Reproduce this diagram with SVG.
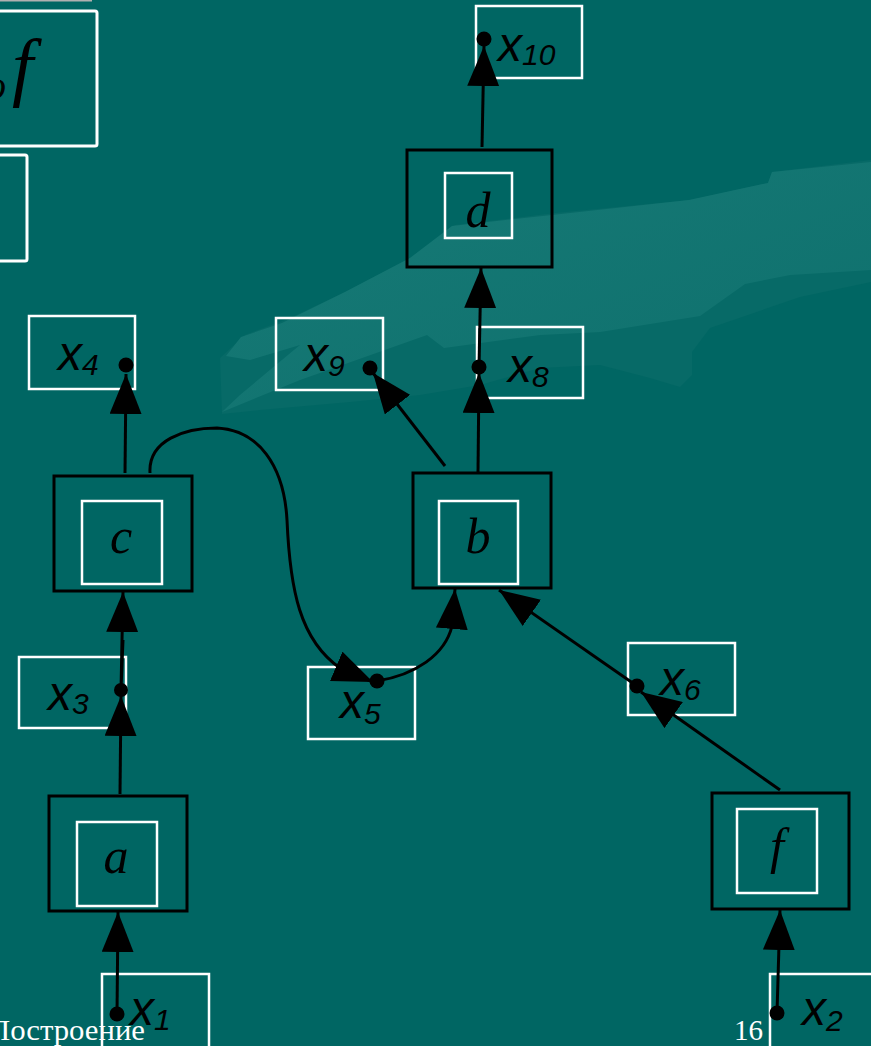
<svg xmlns="http://www.w3.org/2000/svg" width="871" height="1046" viewBox="0 0 871 1046">
<defs>
<linearGradient id="band" x1="0" y1="0" x2="1" y2="1">
<stop offset="0" stop-color="#177a76"/>
<stop offset="1" stop-color="#0e706d"/>
</linearGradient>
<marker id="ah" viewBox="0 0 40 32" markerWidth="40" markerHeight="32" markerUnits="userSpaceOnUse" refX="40" refY="16" orient="auto">
<path d="M0,0 L40,16 L0,32 Z" fill="#000"/>
</marker>
<style>
.outer{fill:none;stroke:#000;stroke-width:3}
.inner{fill:none;stroke:#fff;stroke-width:2.5}
.var{fill:none;stroke:#fff;stroke-width:2.5}
.op{font-family:"Liberation Serif",serif;font-style:italic;font-size:50px;fill:#000}
.vx{font-family:"Liberation Sans",sans-serif;font-style:italic;font-size:48px;fill:#000}
.vs{font-family:"Liberation Sans",sans-serif;font-style:italic;font-size:30px;fill:#000}
.edge{fill:none;stroke:#000;stroke-width:3;marker-end:url(#ah)}
.foot{font-family:"Liberation Serif",serif;font-size:29px;fill:#fff}
</style>
</defs>
<rect x="0" y="0" width="871" height="1046" fill="#006663"/>
<g id="swoosh">
<path d="M220,358 L245,335 L290,318 L345,292 L410,258 L455,225 L555,213 L690,200 L768,183 L772,172 L871,160 L871,282 L800,297 L710,328 L692,352 L692,375 L680,387 L650,378 L600,365 L540,368 L480,385 L420,395 L350,402 L260,410 L222,414 Z" fill="#076a67"/>
<path d="M222,412 L300,380 L427,335 L444,348 L540,335 L600,332 L700,316 L745,284 L790,275 L871,270 L871,162 L772,172 L768,183 L689,200 L552,215 L452,226 L410,258 L345,292 L282,323 L241,337 L226,356 L250,360 L300,345 L240,395 Z" fill="url(#band)"/>
</g>
<g id="fragments">
<rect x="0" y="0" width="92" height="1.5" fill="#b0b0b0"/>
<rect x="-10" y="11" width="107" height="135" rx="2" fill="none" stroke="#fff" stroke-width="3"/>
<text x="-14" y="99" style="font-family:'Liberation Serif',serif;font-style:italic;font-size:40px;fill:#000">o</text>
<text x="12" y="92" style="font-family:'Liberation Serif',serif;font-style:italic;font-size:76px;fill:#000">f</text>
<rect x="-10" y="155" width="37" height="106" rx="2" fill="none" stroke="#fff" stroke-width="3"/>
</g>
<g id="footer">
<text class="foot" x="-12" y="1040" textLength="157" lengthAdjust="spacingAndGlyphs">Построение</text>
<text class="foot" x="734" y="1040">16</text>
</g>
<g id="node-d">
<rect class="outer" x="407" y="150" width="145" height="117"/>
<rect class="inner" x="445" y="173" width="67" height="65"/>
<text class="op" x="478" y="227" text-anchor="middle">d</text>
</g>
<g id="node-c">
<rect class="outer" x="54" y="476" width="138" height="115"/>
<rect class="inner" x="82" y="501" width="80" height="83"/>
<text class="op" x="121" y="553" text-anchor="middle">c</text>
</g>
<g id="node-b">
<rect class="outer" x="413" y="473" width="138" height="115"/>
<rect class="inner" x="439" y="501" width="79" height="83"/>
<text class="op" x="478" y="553" text-anchor="middle">b</text>
</g>
<g id="node-a">
<rect class="outer" x="49" y="796" width="138" height="115"/>
<rect class="inner" x="77" y="822" width="80" height="84"/>
<text class="op" x="116" y="873" text-anchor="middle">a</text>
</g>
<g id="node-f">
<rect class="outer" x="712" y="793" width="137" height="116"/>
<rect class="inner" x="737" y="809" width="80" height="84"/>
<text class="op" x="777" y="863" text-anchor="middle">f</text>
</g>
<g id="var-x10">
<rect class="var" x="476" y="6" width="106" height="72"/>
<text x="498" y="61"><tspan class="vx">x</tspan><tspan class="vs" dy="4">10</tspan></text>
</g>
<g id="var-x4">
<rect class="var" x="29" y="316" width="106" height="73"/>
<text x="58" y="370"><tspan class="vx">x</tspan><tspan class="vs" dy="5">4</tspan></text>
</g>
<g id="var-x9">
<rect class="var" x="276" y="318" width="107" height="72"/>
<text x="304" y="371"><tspan class="vx">x</tspan><tspan class="vs" dy="5">9</tspan></text>
</g>
<g id="var-x8">
<rect class="var" x="477" y="327" width="106" height="71"/>
<text x="508" y="382"><tspan class="vx">x</tspan><tspan class="vs" dy="5">8</tspan></text>
</g>
<g id="var-x3">
<rect class="var" x="19" y="657" width="107" height="71"/>
<text x="48" y="710"><tspan class="vx">x</tspan><tspan class="vs" dy="4">3</tspan></text>
</g>
<g id="var-x5">
<rect class="var" x="308" y="667" width="107" height="72"/>
<text x="340" y="718"><tspan class="vx">x</tspan><tspan class="vs" dy="6">5</tspan></text>
</g>
<g id="var-x6">
<rect class="var" x="628" y="643" width="107" height="72"/>
<text x="660" y="695"><tspan class="vx">x</tspan><tspan class="vs" dy="5">6</tspan></text>
</g>
<g id="var-x1">
<rect class="var" x="102" y="974" width="107" height="80"/>
<text x="130" y="1025"><tspan class="vx">x</tspan><tspan class="vs" dy="5">1</tspan></text>
</g>
<g id="var-x2">
<rect class="var" x="770" y="974" width="110" height="80"/>
<text x="802" y="1025"><tspan class="vx">x</tspan><tspan class="vs" dy="6">2</tspan></text>
</g>
<g id="connectors">
<path class="edge" d="M117,1014 L118,912"/>
<path class="edge" d="M120,794 L121,696"/>
<path class="edge" d="M123,640 L121,690 L123,592"/>
<path class="edge" d="M125,473 L126,374"/>
<path class="edge" d="M150,473 C148,440 185,428 217,428 C258,430 284,465 287,520 C290,590 300,640 340,668 L373,682"/>
<path class="edge" d="M377,681 C415,675 445,655 452,626 L455,589"/>
<path class="edge" d="M445,466 L373,373"/>
<path class="edge" d="M478,472 L479,373"/>
<path class="edge" d="M479,367 L481,268"/>
<path class="edge" d="M482,147 L484,46"/>
<path class="edge" d="M780,790 L641,692"/>
<path class="edge" d="M637,686 L499,590"/>
<path class="edge" d="M777,1013 L780,910"/>
<g fill="#000">
<circle cx="117" cy="1014" r="7.5"/>
<circle cx="121" cy="690" r="7"/>
<circle cx="126" cy="365" r="7.5"/>
<circle cx="377" cy="681" r="7.5"/>
<circle cx="370" cy="368" r="7.5"/>
<circle cx="479" cy="367" r="7.5"/>
<circle cx="484" cy="39" r="7.5"/>
<circle cx="637" cy="686" r="7.5"/>
<circle cx="777" cy="1013" r="7.5"/>
</g>
</g>
</svg>
